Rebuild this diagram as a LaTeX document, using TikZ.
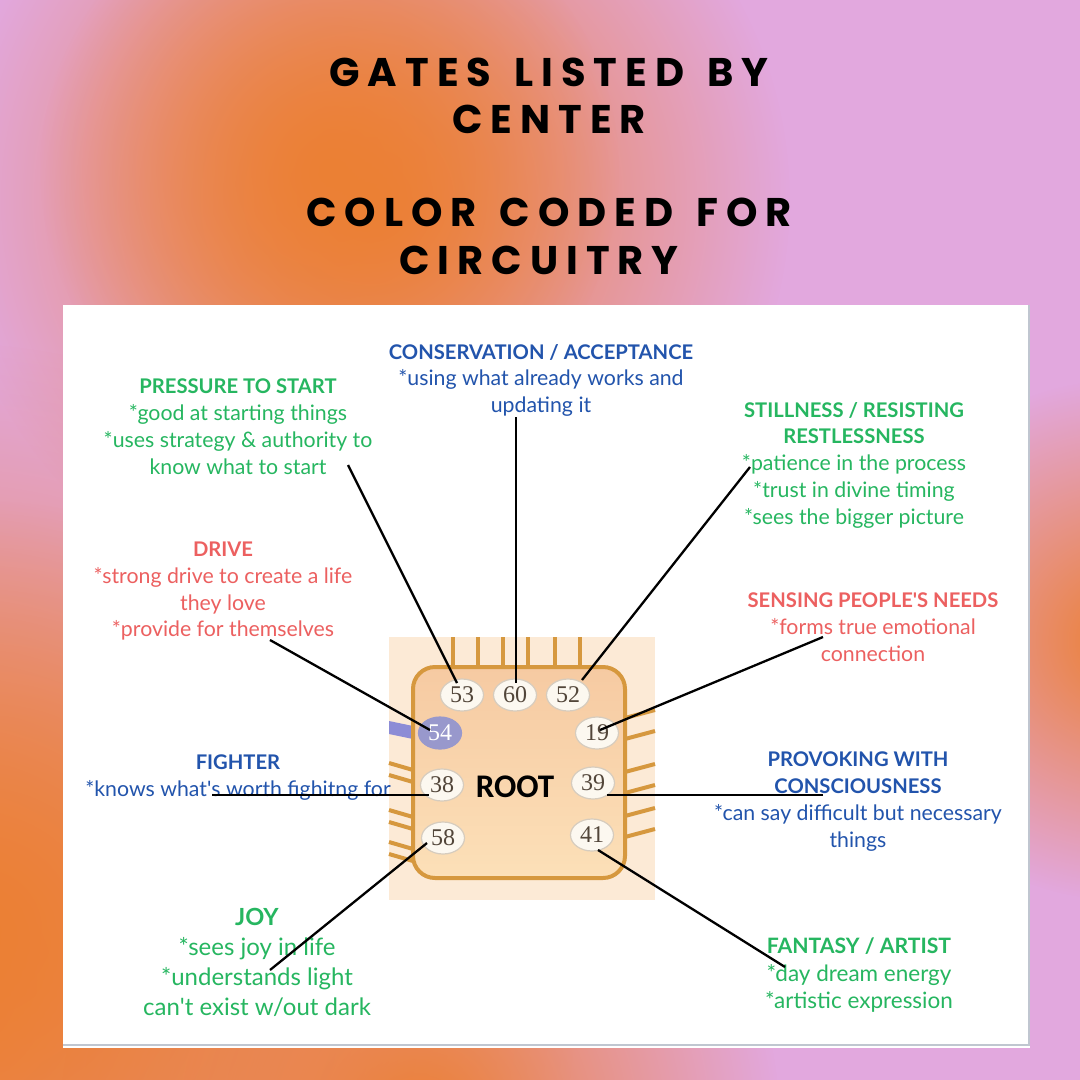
\documentclass[tikz,border=0pt]{standalone}
\usepackage{fontspec}
\setmainfont{Lato}
\newfontfamily\titlefont[LetterSpace=20,WordSpace=1.4]{Poppins}
\newfontfamily\gatefont{Liberation Serif}
\newfontfamily\rootfont{Carlito}
\usetikzlibrary{shapes.geometric}
\usetikzlibrary{calc}
\usetikzlibrary{fadings}

\definecolor{bgpink}{RGB}{226,168,222}
\definecolor{bgorange}{RGB}{236,128,52}
\definecolor{panelgray}{RGB}{192,198,208}
\definecolor{txtgreen}{RGB}{38,182,96}
\definecolor{txtred}{RGB}{236,96,96}
\definecolor{txtblue}{RGB}{34,84,172}
\definecolor{rootedge}{RGB}{214,152,62}
\definecolor{rootpale}{RGB}{252,234,214}
\definecolor{roottop}{RGB}{246,202,162}
\definecolor{rootbot}{RGB}{252,224,184}
\definecolor{gatefill}{RGB}{252,248,240}
\definecolor{gateedge}{RGB}{214,204,190}
\definecolor{gatetext}{RGB}{82,70,58}
\definecolor{gatepurple}{RGB}{152,152,204}
\definecolor{bandblue}{RGB}{140,140,214}

\tikzfading[name=blobfade, inner color=transparent!0, outer color=transparent!100]

% bold heading line of a description
\newcommand{\blurbhead}[1]{{\fontsize{20.2}{26.7}\selectfont\bfseries #1}}

\tikzset{
  gate/.style={ellipse, minimum width=43, minimum height=32, inner sep=0,
    fill=gatefill, draw=gateedge, line width=1.2, text=gatetext,
    font=\gatefont\fontsize{24}{24}\selectfont},
  blurb/.style={align=center, inner sep=0, anchor=north,
    font=\fontsize{21.3}{26.7}\selectfont},
  heading/.style={anchor=base, inner sep=0,
    font=\titlefont\bfseries\fontsize{40}{40}\selectfont},
  connector/.style={line width=2.3, black},
  stub/.style={rootedge, line width=4},
  blob/.style={bgorange, path fading=blobfade}
}

\begin{document}
\begin{tikzpicture}[x=1pt,y=-1pt]
\useasboundingbox (0,0) rectangle (1080,1080);
% background
\fill[bgpink] (0,0) rectangle (1080,1080);
\fill[blob] (370,200) circle (420);
\fill[blob] (330,170) circle (290);
\fill[blob] (-60,980) circle (640);
\fill[blob] (-20,930) circle (430);
\fill[blob] (1120,640) circle (260);
\fill[blob] (420,1120) circle (360);
% title
\node[heading] (title1) at (549,86) {GATES LISTED BY};
\node[heading] (title2) at (549,133) {CENTER};
\node[heading] (title3) at (549,226) {COLOR CODED FOR};
\node[heading] (title4) at (539,274) {CIRCUITRY};
% white panel
\fill[white] (63,305) rectangle (1030,1048);
\draw[panelgray, line width=2.5] (1029,305) -- (1029,1045) -- (63,1045);
% root center
\fill[rootpale] (389,637) rectangle (655,900);
\foreach \x in {453,478,503,528,555,580}
  \draw[stub] (\x,637) -- (\x,667);
\foreach \y in {710,731,764,785,808,829}
  \draw[stub] (625,\y+8) -- (655,\y);
\foreach \y in {763,775,810,822,842,854}
  \draw[stub] (389,\y) -- (413,\y+7);
\fill[bandblue] (389,721) -- (413,726) -- (413,739) -- (389,734) -- cycle;
\draw[rootedge, line width=4, rounded corners=22, top color=roottop, bottom color=rootbot]
  (413,667) rectangle (625,878);
\node[font=\rootfont\bfseries\fontsize{33}{33}\selectfont] (root) at (515,787) {ROOT};
% gates
\node[gate] (g53) at (462,695) {53};
\node[gate] (g60) at (515,695) {60};
\node[gate] (g52) at (568,695) {52};
\node[gate, fill=gatepurple, draw=gatepurple, text=white] (g54) at (440,733) {54};
\node[gate] (g19) at (597,733) {19};
\node[gate] (g38) at (442,785) {38};
\node[gate] (g39) at (593,783) {39};
\node[gate] (g58) at (443,838) {58};
\node[gate] (g41) at (592,835) {41};
% descriptions
\node[blurb, text=txtblue] (conservation) at (541,344)
  {\blurbhead{CONSERVATION / ACCEPTANCE}\\{}*using what already works and\\updating it};
\node[blurb, text=txtgreen] (pressure) at (238,379)
  {\blurbhead{PRESSURE TO START}\\{}*good at starting things\\{}*uses strategy \& authority to\\know what to start};
\node[blurb, text=txtgreen] (stillness) at (854,402)
  {\blurbhead{STILLNESS / RESISTING}\\\blurbhead{RESTLESSNESS}\\{}*patience in the process\\{}*trust in divine timing\\{}*sees the bigger picture};
\node[blurb, text=txtred] (drive) at (223,542)
  {\blurbhead{DRIVE}\\{}*strong drive to create a life\\they love\\{}*provide for themselves};
\node[blurb, text=txtred] (sensing) at (873,593)
  {\blurbhead{SENSING PEOPLE\textquotesingle S NEEDS}\\{}*forms true emotional\\connection};
\node[blurb, text=txtblue] (fighter) at (238,755)
  {\blurbhead{FIGHTER}\\{}*knows what\textquotesingle s worth fighitng for};
\node[blurb, text=txtblue] (provoking) at (858,752)
  {\blurbhead{PROVOKING WITH}\\\blurbhead{CONSCIOUSNESS}\\{}*can say difficult but necessary\\things};
\node[blurb, text=txtgreen, font=\fontsize{24}{30}\selectfont] (joy) at (257,908)
  {{\fontsize{23.6}{30}\selectfont\bfseries JOY}\\{}*sees joy in life\\{}*understands light\\can\textquotesingle t exist w/out dark};
\node[blurb, text=txtgreen, font=\fontsize{22.5}{27.5}\selectfont] (fantasy) at (859,938)
  {{\fontsize{21.2}{27.5}\selectfont\bfseries FANTASY / ARTIST}\\{}*day dream energy\\{}*artistic expression};
% connector ends
\coordinate (c53) at (348,465);
\coordinate (c60) at (516,417);
\coordinate (c52) at (750,467);
\coordinate (c54) at (270,640);
\coordinate (c19) at (823,637);
\coordinate (c38) at (212,795);
\coordinate (c39) at (823,795);
\coordinate (c58) at (270,970);
\coordinate (c41) at (785,967);
% connectors
\draw[connector] (c53) -- ($(g53)+(-5,-12)$);
\draw[connector] (c60) -- ($(g60)+(1,-12)$);
\draw[connector] (c52) -- ($(g52)+(14,-15)$);
\draw[connector] (c54) -- ($(g54)+(-10,-3)$);
\draw[connector] (c19) -- ($(g19)+(3,-3)$);
\draw[connector] (c38) -- ($(g38)+(-13,10)$);
\draw[connector] (c39) -- ($(g39)+(14,12)$);
\draw[connector] (c58) -- ($(g58)+(-16,5)$);
\draw[connector] (c41) -- ($(g41)+(6,15)$);
\end{tikzpicture}
\end{document}
